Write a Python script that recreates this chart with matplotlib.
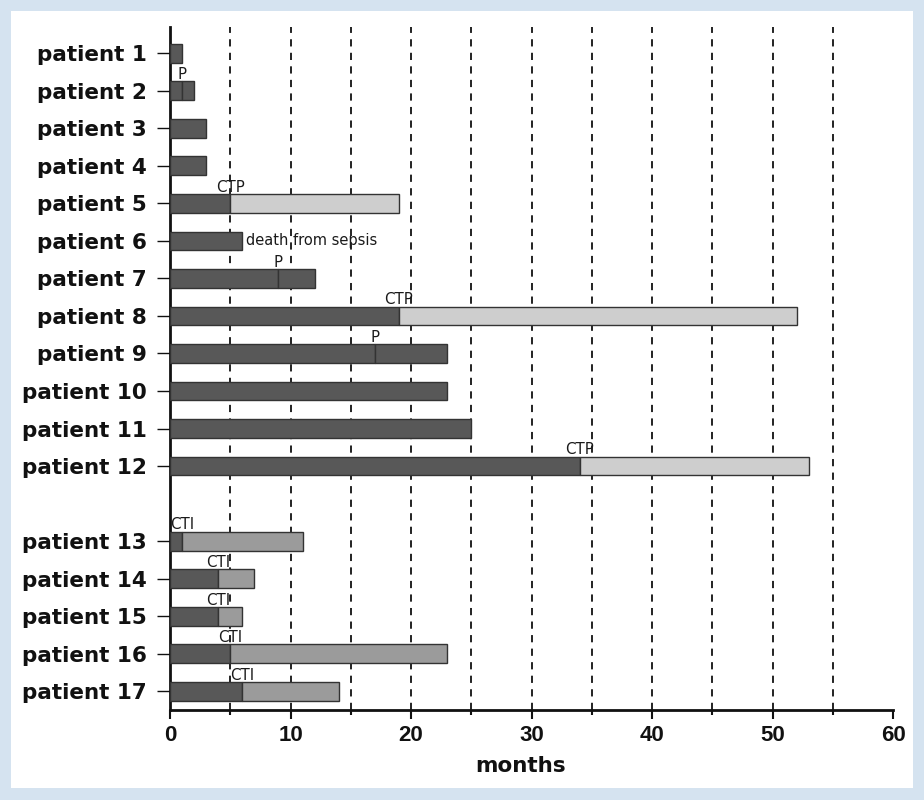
import matplotlib
matplotlib.use("Agg")
import matplotlib.pyplot as plt
from matplotlib.patches import Rectangle
import numpy as np

# ---- data ----
patients = [f"patient {i}" for i in range(1, 18)]
positions = [0, 1, 2, 3, 4, 5, 6, 7, 8, 9, 10, 11, 13, 14, 15, 16, 17]
phase1_end = [1, 1, 3, 3, 5, 6, 9, 19, 17, 23, 25, 34, 1, 4, 4, 5, 6]
phase2_end = [1, 2, 3, 3, 19, 6, 12, 52, 23, 23, 25, 53, 11, 7, 6, 23, 14]
event = ["", "P", "", "", "CTP", "", "P", "CTP", "P", "", "", "CTP",
         "CTI", "CTI", "CTI", "CTI", "CTI"]
note_patient = 6
note_text = "death from sepsis"
xticks_major = [0, 10, 20, 30, 40, 50, 60]
xticks_minor = [5, 15, 25, 35, 45, 55]
grid_x = [5, 10, 15, 20, 25, 30, 35, 40, 45, 50, 55]

DARK = "#585858"
LIGHT = "#cecece"
MED = "#9b9b9b"
EDGE = "#333333"
seg_color = {"P": DARK, "CTP": LIGHT, "CTI": MED}

fig = plt.figure(figsize=(9.24, 8.0), dpi=100)
fig.patch.set_facecolor("#d5e3f0")
panel = Rectangle((11 / 924, 1 - 788 / 800), 902 / 924, 777 / 800,
                  transform=fig.transFigure, facecolor="white",
                  edgecolor="none", zorder=-10)
fig.patches.append(panel)

ax = fig.add_axes([170 / 924, 1 - 710 / 800, 723 / 924, 683 / 800])
ax.set_zorder(5)
ax.set_facecolor("none")

for gx in grid_x:
    ax.axvline(gx, color="#111111", lw=1.3, ls=(0, (4, 3.5)), zorder=1)

H = 0.5
ax.barh(positions, phase1_end, height=H, color=DARK, edgecolor=EDGE,
        linewidth=1, zorder=3)
for pos, a, b, ev in zip(positions, phase1_end, phase2_end, event):
    if b > a:
        ax.barh(pos, b - a, left=a, height=H, color=seg_color[ev],
                edgecolor=EDGE, linewidth=1, zorder=3)
    if ev:
        ax.text(a, pos - H / 2 - 0.06, ev, ha="center", va="baseline",
                fontsize=10.8, color="#1a1a1a", family="DejaVu Sans", zorder=4)

i = patients.index(f"patient {note_patient}")
ax.text(phase2_end[i] + 0.3, positions[i], note_text, ha="left", va="center",
        fontsize=10.5, color="#1a1a1a", family="DejaVu Sans", zorder=4)

ax.set_xlim(0, 60)
ax.set_ylim(17.5, -0.7)
ax.set_yticks(positions)
ax.set_yticklabels(patients, fontsize=15.5, fontweight="bold",
                   family="DejaVu Sans", color="#111111")
ax.set_xticks(xticks_major)
ax.set_xticklabels([str(v) for v in xticks_major], fontsize=16,
                   fontweight="bold", family="Liberation Sans", color="#111111")
ax.set_xticks(xticks_minor, minor=True)

ax.tick_params(axis="y", length=9.5, width=1, pad=7, color="#111111")
ax.tick_params(axis="x", which="major", length=6.5, width=1.5, pad=4,
               color="#111111")
ax.tick_params(axis="x", which="minor", length=3.8, width=1.5,
               color="#111111")

for s in ("top", "right"):
    ax.spines[s].set_visible(False)
for s in ("left", "bottom"):
    ax.spines[s].set_linewidth(2)
    ax.spines[s].set_color("#111111")

ax.set_xlabel("months", fontsize=15.5, fontweight="bold",
              family="DejaVu Sans", color="#111111")
ax.xaxis.set_label_coords((520.5 - 170) / 723, -(766 - 710) / 683)
ax.xaxis.label.set_va("center")

fig.savefig("out.png", dpi=100, facecolor=fig.get_facecolor())
